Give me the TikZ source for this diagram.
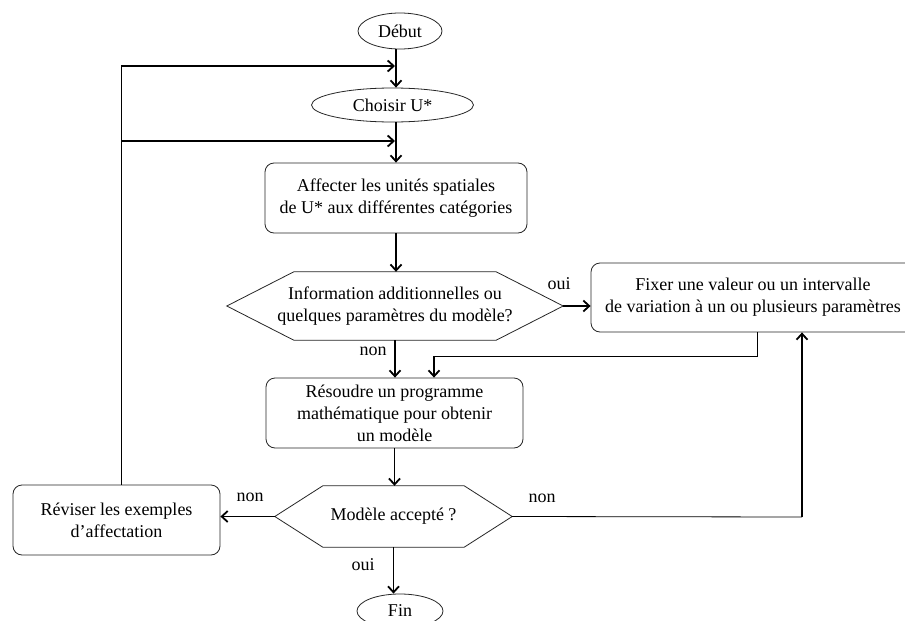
\documentclass[tikz,border=0pt]{standalone}
\usepackage{fontspec}
\setmainfont{Liberation Serif}
\usetikzlibrary{shapes.geometric,arrows.meta}
\begin{document}
\begin{tikzpicture}[x=1pt,y=-1pt,
  every node/.style={font=\fontsize{18}{22}\selectfont, inner sep=0pt},
  term/.style={ellipse, draw=black!85, line width=0.8pt},
  procbox/.style={rectangle, rounded corners=9pt, draw=black!85, line width=0.8pt, align=center},
  hexbox/.style={rectangle, align=center},
  hexline/.style={draw=black!85, line width=0.8pt},
  arr/.style={line width=1.8pt, -{Straight Barb[length=6pt,width=11pt]}},
  thinline/.style={line width=0.8pt},
  lbl/.style={font=\fontsize{18}{20}\selectfont}
]
\useasboundingbox (0,0) rectangle (905,621);
\clip (0,0) rectangle (905,621);
\fill[white] (0,0) rectangle (905,621);

% nodes
\node[term, minimum width=84, minimum height=36] (debut) at (400,31) {Début};
\node[term, minimum width=162, minimum height=34] (choisir) at (392.5,105) {Choisir U*};
\node[procbox, minimum width=262, minimum height=70] (aff) at (396,198) {Affecter les unités spatiales\\de U* aux différentes catégories};
\node[hexbox, minimum width=336, minimum height=68] (info) at (395,306) {Information additionnelles ou\\quelques paramètres du modèle?};
\draw[hexline] (info.west) -- ([xshift=67]info.north west) -- ([xshift=-67]info.north east) -- (info.east) -- ([xshift=-67]info.south east) -- ([xshift=67]info.south west) -- cycle;
\node[procbox, minimum width=324, minimum height=69] (fix) at (753,297.5) {Fixer une valeur ou un intervalle\\de variation à un ou plusieurs paramètres};
\node[procbox, minimum width=257, minimum height=70] (res) at (394.5,413) {Résoudre un programme\\mathématique pour obtenir\\un modèle};
\node[hexbox, minimum width=237, minimum height=61] (model) at (393.5,516.5) {Modèle accepté ?};
\draw[hexline] (model.west) -- ([xshift=48]model.north west) -- ([xshift=-48]model.north east) -- (model.east) -- ([xshift=-48]model.south east) -- ([xshift=48]model.south west) -- cycle;
\node[procbox, minimum width=207, minimum height=70] (rev) at (116.5,520) {Réviser les exemples\\d’affectation};
\node[term, minimum width=86, minimum height=34] (fin) at (400,611) {Fin};

% helper coordinates
\coordinate (l1) at (121,66);
\coordinate (l2) at (121,141);
\coordinate (m1) at (395,66);
\coordinate (m2) at (395,141);
\coordinate (r1) at (757,356);
\coordinate (r2) at (434,356);
\coordinate (k) at (802,517);

% connectors
\draw[arr] (aff.north |- debut.south) -- (aff.north |- choisir.north);
\draw[thinline] ([xshift=4.5]rev.north) -- (l1);
\draw[arr] (l1) -- (m1);
\draw[arr] (l2) -- (m2);
\draw[arr] (aff.north |- choisir.south) -- (aff.north);
\draw[arr] (aff.south) -- (aff.south |- info.north);
\draw[arr] (info.south) -- (info.south |- res.north);
\node[lbl] at (373,351) {non};
\draw[arr] (info.east) -- (info.east -| fix.west);
\node[lbl] at (559,284) {oui};
\draw[thinline] (fix.south -| r1) -- (r1) -- (r2);
\draw[arr] (r2) -- (r2 |- res.north);
\draw[arr] (res.south) -- (res.south |- model.north);
\draw[arr] (model.west) -- (model.west -| rev.east);
\node[lbl] at (250,497) {non};
\draw[thinline] (model.east) -- (k);
\draw[arr] (k) -- (k |- fix.south);
\node[lbl] at (542,498) {non};
\draw[arr] (model.south) -- (model.south |- fin.north);
\node[lbl] at (363,565) {oui};
\end{tikzpicture}
\end{document}
